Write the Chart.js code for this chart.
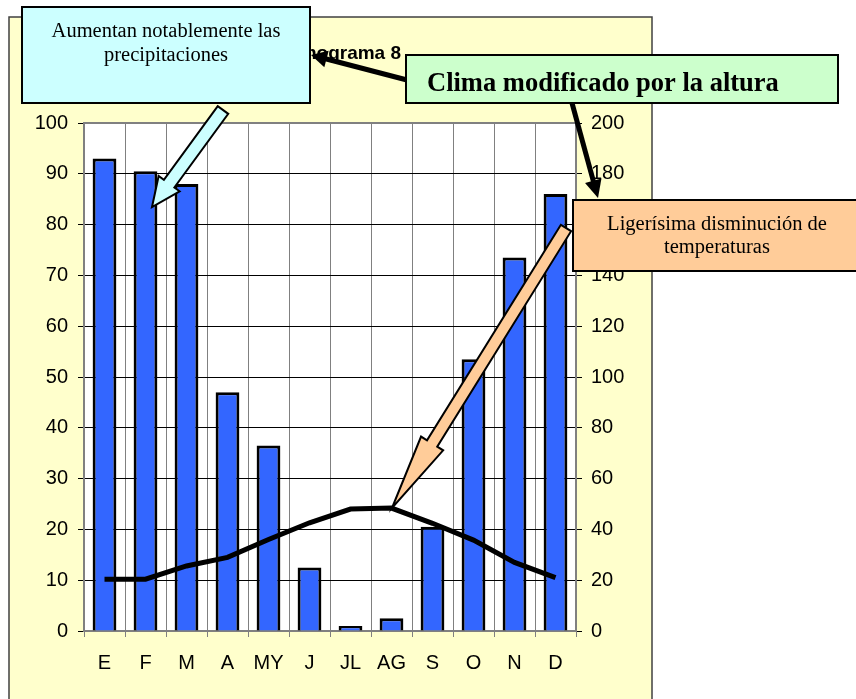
<!DOCTYPE html>
<html>
<head>
<meta charset="utf-8">
<script src="https://cdn.jsdelivr.net/npm/chart.js@4.4.0/dist/chart.umd.min.js"></script>
<style>
  body { margin: 0; background: #fff; }
  canvas { display: block; }
</style>
</head>
<body>
<canvas id="climo" width="856" height="699"></canvas>
<script>
var months = ['E', 'F', 'M', 'A', 'MY', 'J', 'JL', 'AG', 'S', 'O', 'N', 'D'];
// precipitaciones (mm), eje derecho
var precip = [186, 181, 176, 94, 73, 25, 2, 5, 41, 107, 147, 172];
// temperaturas (ºC), eje izquierdo
var temp = [10.2, 10.2, 12.8, 14.5, 18, 21.3, 24, 24.2, 21.2, 17.9, 13.5, 10.5];
var leftMax = 100, leftStep = 10;
var rightMax = 200, rightStep = 20;
var titleText = 'Climograma 8';
var noteRain = ['Aumentan notablemente las', 'precipitaciones'];
var noteMain = 'Clima modificado por la altura';
var noteTemp = ['Ligerísima disminución de', 'temperaturas'];

var sans = '"Liberation Sans", Arial, sans-serif';
var serif = '"Liberation Serif", "Times New Roman", serif';

function blockArrow(ctx, x0, y0, x1, y1, sw, hw, hl, fill) {
    var dx = x1 - x0, dy = y1 - y0;
    var len = Math.sqrt(dx * dx + dy * dy);
    var ux = dx / len, uy = dy / len;
    var nx = -uy, ny = ux;
    var bx = x1 - ux * hl, by = y1 - uy * hl;
    ctx.beginPath();
    ctx.moveTo(x0 + nx * sw / 2, y0 + ny * sw / 2);
    ctx.lineTo(bx + nx * sw / 2, by + ny * sw / 2);
    ctx.lineTo(bx + nx * hw / 2, by + ny * hw / 2);
    ctx.lineTo(x1, y1);
    ctx.lineTo(bx - nx * hw / 2, by - ny * hw / 2);
    ctx.lineTo(bx - nx * sw / 2, by - ny * sw / 2);
    ctx.lineTo(x0 - nx * sw / 2, y0 - ny * sw / 2);
    ctx.closePath();
    ctx.fillStyle = fill;
    ctx.fill();
    ctx.lineWidth = 2;
    ctx.strokeStyle = '#000';
    ctx.stroke();
}

function lineArrow(ctx, x0, y0, x1, y1, hl, hw) {
    var dx = x1 - x0, dy = y1 - y0;
    var len = Math.sqrt(dx * dx + dy * dy);
    var ux = dx / len, uy = dy / len;
    var nx = -uy, ny = ux;
    var bx = x1 - ux * hl, by = y1 - uy * hl;
    ctx.beginPath();
    ctx.moveTo(x0, y0);
    ctx.lineTo(bx + ux * 2, by + uy * 2);
    ctx.lineWidth = 5;
    ctx.strokeStyle = '#000';
    ctx.stroke();
    ctx.beginPath();
    ctx.moveTo(x1, y1);
    ctx.lineTo(bx + nx * hw / 2, by + ny * hw / 2);
    ctx.lineTo(bx - nx * hw / 2, by - ny * hw / 2);
    ctx.closePath();
    ctx.fillStyle = '#000';
    ctx.fill();
}

function noteBox(ctx, x, y, w, h, fill) {
    ctx.fillStyle = fill;
    ctx.fillRect(x, y, w, h);
    ctx.lineWidth = 2;
    ctx.strokeStyle = '#000';
    ctx.strokeRect(x, y, w, h);
}

var sheetPlugin = {
    id: 'sheet',
    beforeDraw: function (chart) {
        var ctx = chart.ctx, a = chart.chartArea;
        ctx.save();
        ctx.fillStyle = '#ffffcc';
        ctx.fillRect(9, 17, 643, 690);
        ctx.lineWidth = 1.5;
        ctx.strokeStyle = '#404040';
        ctx.strokeRect(9, 17, 643, 690);
        ctx.fillStyle = '#fff';
        ctx.fillRect(a.left, a.top, a.right - a.left, a.bottom - a.top);
        ctx.restore();
    },
    beforeDatasetsDraw: function (chart) {
        var ctx = chart.ctx, a = chart.chartArea;
        ctx.save();
        ctx.lineWidth = 2;
        ctx.strokeStyle = '#808080';
        ctx.strokeRect(a.left, a.top, a.right - a.left, a.bottom - a.top);
        ctx.restore();
    },
    afterDraw: function (chart) {
        var ctx = chart.ctx;
        ctx.save();
        // titulo
        ctx.font = 'bold 19px ' + sans;
        ctx.fillStyle = '#000';
        ctx.textAlign = 'right';
        ctx.textBaseline = 'alphabetic';
        ctx.fillText(titleText, 401, 59);

        // flechas
        blockArrow(ctx, 223, 110, 152, 207, 13, 26, 29, '#ccffff');
        blockArrow(ctx, 566, 228, 392, 508, 12, 26, 76, '#ffcc99');
        lineArrow(ctx, 407, 80, 311, 55, 16, 17);
        lineArrow(ctx, 572, 103, 598, 198, 18, 17);

        // cuadros de texto
        noteBox(ctx, 22, 7, 288, 96, '#ccffff');
        noteBox(ctx, 406, 55, 432, 48, '#ccffcc');
        noteBox(ctx, 573, 200, 290, 71, '#ffcc99');

        ctx.fillStyle = '#000';
        ctx.textAlign = 'center';
        ctx.font = '20.5px ' + serif;
        ctx.fillText(noteRain[0], 166, 37);
        ctx.fillText(noteRain[1], 166, 61);

        ctx.font = '20.5px ' + serif;
        ctx.fillText(noteTemp[0], 717, 230);
        ctx.fillText(noteTemp[1], 717, 253);

        ctx.textAlign = 'left';
        ctx.font = 'bold 26.5px ' + serif;
        ctx.fillText(noteMain, 427, 91);
        ctx.restore();
    }
};

new Chart(document.getElementById('climo').getContext('2d'), {
    type: 'bar',
    data: {
        labels: months,
        datasets: [{
            type: 'line',
            label: 'Temperatura',
            data: temp,
            yAxisID: 'y',
            borderColor: '#000',
            borderWidth: 5,
            pointRadius: 0,
            tension: 0,
            order: 0
        }, {
            type: 'bar',
            label: 'Precipitación',
            data: precip,
            yAxisID: 'y1',
            backgroundColor: '#3366ff',
            borderColor: '#000',
            borderWidth: 3,
            borderSkipped: 'bottom',
            categoryPercentage: 1,
            barPercentage: 0.58,
            order: 1
        }]
    },
    options: {
        responsive: false,
        animation: false,
        layout: { padding: { top: 123, left: 0, right: 0, bottom: 0 } },
        plugins: {
            legend: { display: false },
            title: { display: false },
            tooltip: { enabled: false }
        },
        scales: {
            x: {
                grid: { offset: true, color: '#808080', lineWidth: 1, tickLength: 6 },
                border: { color: '#808080', width: 2 },
                ticks: { color: '#000', font: { family: sans, size: 20 }, padding: 14, maxRotation: 0 },
                afterFit: function (s) { s.height = 68; }
            },
            y: {
                position: 'left',
                min: 0,
                max: leftMax,
                ticks: { stepSize: leftStep, color: '#000', font: { family: sans, size: 20 }, padding: 10 },
                grid: { color: '#000', lineWidth: 1, tickLength: 6 },
                border: { color: '#808080', width: 2 },
                afterFit: function (s) { s.width = 84; }
            },
            y1: {
                position: 'right',
                min: 0,
                max: rightMax,
                ticks: { stepSize: rightStep, color: '#000', font: { family: sans, size: 20 }, padding: 9 },
                grid: { drawOnChartArea: false, color: '#000', tickLength: 6 },
                border: { color: '#808080', width: 2 },
                afterFit: function (s) { s.width = 280; }
            }
        }
    },
    plugins: [sheetPlugin]
});
</script>
</body>
</html>
